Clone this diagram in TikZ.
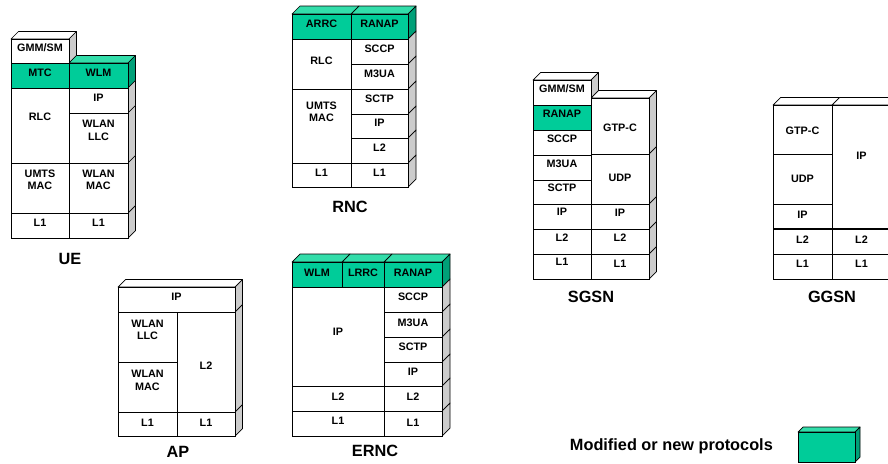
\documentclass[tikz,border=0pt]{standalone}
\usepackage{fontspec}
\setmainfont{Liberation Sans}
\definecolor{proto}{HTML}{00CC99}
\definecolor{prototop}{HTML}{33DDAA}
\definecolor{protoside}{HTML}{00A078}
\definecolor{sidegray}{HTML}{CCCCCC}
\tikzset{
  cellbox/.style={draw=black, line width=0.7pt, inner sep=0pt, outer sep=0pt},
  celltext/.style={font=\fontsize{10.8}{12.5}\selectfont\bfseries, align=center, inner sep=0pt},
  facebox/.style={draw=black, line width=0.7pt, line join=round},
  stacklabel/.style={font=\fontsize{16.3}{18}\selectfont\bfseries, inner sep=0pt}
}
% protocol cell: name, x1, y1, x2, y2, fill, label, label y
\newcommand{\cell}[8]{%
  \pgfmathsetmacro{\cellw}{#4-#2}%
  \pgfmathsetmacro{\cellh}{#5-#3}%
  \node[cellbox, fill=#6, minimum width=\cellw pt, minimum height=\cellh pt] (#1) at ({(#2+#4)/2},{(#3+#5)/2}) {};
  \node[celltext] (#1t) at ({(#2+#4)/2},#8) {#7};
}
% right-hand side face: x, y1, y2, fill
\newcommand{\sideface}[4]{%
  \path[facebox, fill=#4] (#1,#2) -- ++(\dd,-\dd) -- ({#1+\dd},{#3-\dd}) -- (#1,#3) -- cycle;
}
% top face: x1, x2, y, fill
\newcommand{\topface}[4]{%
  \path[facebox, fill=#4] (#1,#3) -- ++(\dd,-\dd) -- ({#2+\dd},{#3-\dd}) -- (#2,#3) -- cycle;
}
\begin{document}
\begin{tikzpicture}[x=1pt, y=-1pt]
\useasboundingbox (0,0) rectangle (888,463);
\clip (0,0) rectangle (888,463);
\fill[white] (0,0) rectangle (888,463);

% ---------------- UE ----------------
\def\dd{7.5}
\topface{11}{69}{39}{white}
\sideface{69}{39}{63}{sidegray}
\topface{69}{128}{63}{prototop}
\sideface{128}{63}{88}{protoside}
\sideface{128}{88}{113}{sidegray}
\sideface{128}{113}{163}{sidegray}
\sideface{128}{163}{213}{sidegray}
\sideface{128}{213}{238}{sidegray}
\cell{ue1}{11}{39}{69}{63}{white}{GMM/SM}{48}
\cell{ue2}{11}{63}{69}{88}{proto}{MTC}{73}
\cell{ue3}{69}{63}{128}{88}{proto}{WLM}{73}
\cell{ue4}{11}{88}{69}{163}{white}{RLC}{117}
\cell{ue5}{69}{88}{128}{113}{white}{IP}{98}
\cell{ue6}{69}{113}{128}{163}{white}{WLAN\\LLC}{130.5}
\cell{ue7}{11}{163}{69}{213}{white}{UMTS\\MAC}{180}
\cell{ue8}{69}{163}{128}{213}{white}{WLAN\\MAC}{180}
\cell{ue9}{11}{213}{69}{238}{white}{L1}{223}
\cell{ue10}{69}{213}{128}{238}{white}{L1}{223}
\node[stacklabel] (uelabel) at (70,259) {UE};

% ---------------- RNC ----------------
\def\dd{8}
\topface{292}{351}{14}{prototop}
\topface{351}{408}{14}{prototop}
\sideface{408}{14}{39}{protoside}
\sideface{408}{39}{64}{sidegray}
\sideface{408}{64}{89}{sidegray}
\sideface{408}{89}{114}{sidegray}
\sideface{408}{114}{138}{sidegray}
\sideface{408}{138}{163}{sidegray}
\sideface{408}{163}{187}{sidegray}
\cell{rnc1}{292}{14}{351}{39}{proto}{ARRC}{24}
\cell{rnc2}{351}{14}{408}{39}{proto}{RANAP}{24}
\cell{rnc3}{292}{39}{351}{89}{white}{RLC}{61}
\cell{rnc4}{292}{89}{351}{163}{white}{UMTS\\MAC}{112}
\cell{rnc5}{351}{39}{408}{64}{white}{SCCP}{49}
\cell{rnc6}{351}{64}{408}{89}{white}{M3UA}{74}
\cell{rnc7}{351}{89}{408}{114}{white}{SCTP}{99}
\cell{rnc8}{351}{114}{408}{138}{white}{IP}{123}
\cell{rnc9}{351}{138}{408}{163}{white}{L2}{148}
\cell{rnc10}{292}{163}{351}{187}{white}{L1}{173}
\cell{rnc11}{351}{163}{408}{187}{white}{L1}{173}
\node[stacklabel] (rnclabel) at (350,207) {RNC};

% ---------------- SGSN ----------------
\def\dd{7.5}
\topface{533}{591}{80}{white}
\sideface{591}{80}{98}{sidegray}
\topface{591}{649}{98}{white}
\sideface{649}{98}{154}{sidegray}
\sideface{649}{154}{204}{sidegray}
\sideface{649}{204}{229}{sidegray}
\sideface{649}{229}{254}{sidegray}
\sideface{649}{254}{279}{sidegray}
\cell{sg1}{533}{80}{591}{105}{white}{GMM/SM}{89}
\cell{sg2}{533}{105}{591}{130}{proto}{RANAP}{114}
\cell{sg3}{533}{130}{591}{155}{white}{SCCP}{139}
\cell{sg4}{533}{155}{591}{180}{white}{M3UA}{164}
\cell{sg5}{533}{180}{591}{204}{white}{SCTP}{188}
\cell{sg6}{533}{204}{591}{229}{white}{IP}{212}
\cell{sg7}{533}{229}{591}{254}{white}{L2}{238}
\cell{sg8}{533}{254}{591}{279}{white}{L1}{262}
\cell{sg9}{591}{98}{649}{154}{white}{GTP-C}{128}
\cell{sg10}{591}{154}{649}{204}{white}{UDP}{178}
\cell{sg11}{591}{204}{649}{229}{white}{IP}{213}
\cell{sg12}{591}{229}{649}{254}{white}{L2}{238}
\cell{sg13}{591}{254}{649}{279}{white}{L1}{264}
\node[stacklabel] (sgsnlabel) at (591,297) {SGSN};

% ---------------- GGSN ----------------
\def\dd{7.5}
\topface{773}{832}{105}{white}
\topface{832}{891}{105}{white}
\cell{gg1}{773}{105}{832}{154}{white}{GTP-C}{131}
\cell{gg2}{773}{154}{832}{204}{white}{UDP}{179}
\cell{gg3}{773}{204}{832}{229}{white}{IP}{215}
\cell{gg4}{773}{229}{832}{254}{white}{L2}{240}
\cell{gg5}{773}{254}{832}{279}{white}{L1}{264}
\cell{gg6}{832}{105}{891}{229}{white}{IP}{156}
\cell{gg7}{832}{229}{891}{254}{white}{L2}{240}
\cell{gg8}{832}{254}{891}{279}{white}{L1}{264}
\draw[line width=1.6pt] (gg4.north west) -- (gg7.north east);
\node[stacklabel] (ggsnlabel) at (832,297) {GGSN};

% ---------------- AP ----------------
\def\dd{7.5}
\topface{118}{235}{287}{white}
\sideface{235}{287}{312}{sidegray}
\sideface{235}{312}{412}{sidegray}
\sideface{235}{412}{436}{sidegray}
\cell{ap1}{118}{287}{235}{312}{white}{IP}{297}
\cell{ap2}{118}{312}{177}{362}{white}{WLAN\\LLC}{330}
\cell{ap3}{118}{362}{177}{412}{white}{WLAN\\MAC}{380.5}
\cell{ap4}{177}{312}{235}{412}{white}{L2}{366}
\cell{ap5}{118}{412}{177}{436}{white}{L1}{423}
\cell{ap6}{177}{412}{235}{436}{white}{L1}{423}
\node[stacklabel] (aplabel) at (178,452) {AP};

% ---------------- ERNC ----------------
\def\dd{8}
\topface{292}{342}{262}{prototop}
\topface{342}{384}{262}{prototop}
\topface{384}{442}{262}{prototop}
\sideface{442}{262}{287}{protoside}
\sideface{442}{287}{312}{sidegray}
\sideface{442}{312}{337}{sidegray}
\sideface{442}{337}{362}{sidegray}
\sideface{442}{362}{386}{sidegray}
\sideface{442}{386}{411}{sidegray}
\sideface{442}{411}{436}{sidegray}
\cell{er1}{292}{262}{342}{287}{proto}{WLM}{273}
\cell{er2}{342}{262}{384}{287}{proto}{LRRC}{273}
\cell{er3}{384}{262}{442}{287}{proto}{RANAP}{273}
\cell{er4}{292}{287}{384}{386}{white}{IP}{332}
\cell{er5}{384}{287}{442}{312}{white}{SCCP}{297}
\cell{er6}{384}{312}{442}{337}{white}{M3UA}{322.5}
\cell{er7}{384}{337}{442}{362}{white}{SCTP}{346.5}
\cell{er8}{384}{362}{442}{386}{white}{IP}{371.5}
\cell{er9}{292}{386}{384}{411}{white}{L2}{396.5}
\cell{er10}{384}{386}{442}{411}{white}{L2}{396.5}
\cell{er11}{292}{411}{384}{436}{white}{L1}{420.5}
\cell{er12}{384}{411}{442}{436}{white}{L1}{422.5}
\node[stacklabel] (erlabel) at (375,451) {ERNC};

% ---------------- legend ----------------
\def\dd{5}
\topface{798}{855}{432}{prototop}
\sideface{855}{432}{462}{protoside}
\node[cellbox, fill=proto, minimum width=57pt, minimum height=30pt] (legbox) at (826.5,447) {};
\node[stacklabel, anchor=east] (legtext) at (773,446) {Modified or new protocols};
\end{tikzpicture}
\end{document}
